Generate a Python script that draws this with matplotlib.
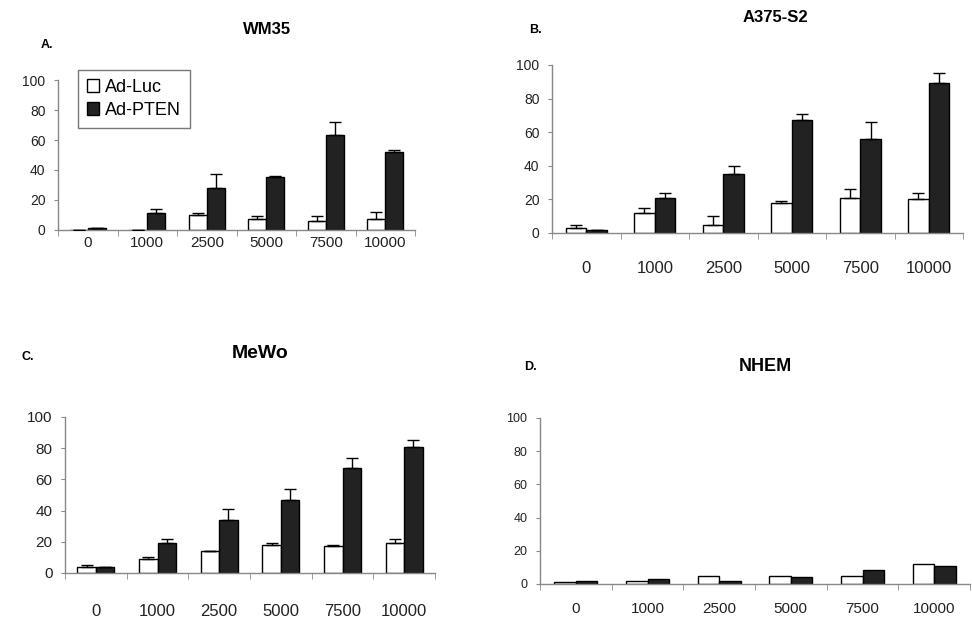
import numpy as np
import matplotlib
matplotlib.use("Agg")
import matplotlib.pyplot as plt

plt.rcParams["font.family"] = ["Liberation Sans", "DejaVu Sans"]

# viral particles per cell (x categories)
doses = ["0", "1000", "2500", "5000", "7500", "10000"]

# % cells
wm35_luc = [0, 0, 10, 7, 6, 7]
wm35_luc_err = [0, 0, 1, 2, 3, 5]
wm35_pten = [1, 11, 28, 35, 63, 52]
wm35_pten_err = [0, 3, 9, 1, 9, 1]

a375_luc = [3, 12, 5, 18, 21, 20]
a375_luc_err = [2, 3, 5, 1, 5, 4]
a375_pten = [2, 21, 35, 67, 56, 89]
a375_pten_err = [0, 3, 5, 4, 10, 6]

mewo_luc = [4, 9, 14, 18, 17, 19]
mewo_luc_err = [1, 1, 0, 1, 1, 3]
mewo_pten = [4, 19, 34, 47, 67, 81]
mewo_pten_err = [0, 3, 7, 7, 7, 4]

nhem_luc = [1, 2, 5, 5, 5, 12]
nhem_pten = [2, 3, 2, 4.5, 8.5, 11]

W, H = 972, 623
fig = plt.figure(figsize=(W / 100, H / 100), dpi=100)


def px_axes(x0, x1, ytop, ybot):
    return fig.add_axes([x0 / W, 1 - ybot / H, (x1 - x0) / W, (ybot - ytop) / H])


def draw_panel(ax, luc, pten, luc_err=None, pten_err=None, xpad=4, xfs=11, yfs=10):
    x = np.arange(len(doses))
    w = 0.3
    ax.bar(x - w / 2, luc, w, color="white", edgecolor="black", linewidth=1.0, label="Ad-Luc", zorder=2)
    ax.bar(x + w / 2, pten, w, color="#222222", edgecolor="black", linewidth=1.0, label="Ad-PTEN", zorder=2)
    if luc_err is not None:
        ax.errorbar(x - w / 2, luc, yerr=[np.zeros(len(luc)), luc_err], fmt="none",
                    ecolor="black", elinewidth=1, capsize=4, capthick=1, zorder=3)
    if pten_err is not None:
        ax.errorbar(x + w / 2, pten, yerr=[np.zeros(len(pten)), pten_err], fmt="none",
                    ecolor="black", elinewidth=1, capsize=4, capthick=1, zorder=3)
    ax.set_xlim(-0.5, len(doses) - 0.5)
    ax.set_ylim(0, 100)
    ax.set_yticks([0, 20, 40, 60, 80, 100])
    ax.set_xticks(x)
    ax.set_xticklabels(doses, fontsize=xfs, color="#222222")
    ax.set_xticks(np.arange(len(doses) + 1) - 0.5, minor=True)
    ax.tick_params(axis="x", which="major", length=0, pad=xpad)
    ax.tick_params(axis="x", which="minor", length=4, color="#888888")
    ax.tick_params(axis="y", length=3, color="#888888", labelsize=yfs, labelcolor="#222222", pad=6)
    for s in ["top", "right"]:
        ax.spines[s].set_visible(False)
    for s in ["left", "bottom"]:
        ax.spines[s].set_color("#888888")
        ax.spines[s].set_linewidth(1.0)


axA = px_axes(58, 415, 80, 230)
draw_panel(axA, wm35_luc, wm35_pten, wm35_luc_err, wm35_pten_err, xpad=4)
leg = axA.legend(loc="upper left", bbox_to_anchor=(0.03, 1.13), fontsize=13, frameon=True,
                 fancybox=False, edgecolor="#555555", handlelength=0.7, handleheight=0.7,
                 handletextpad=0.3, borderpad=0.5, labelspacing=0.35)
leg.get_frame().set_linewidth(1.0)

axB = px_axes(552, 963, 65, 233)
draw_panel(axB, a375_luc, a375_pten, a375_luc_err, a375_pten_err, xpad=20, xfs=12)

axC = px_axes(65, 435, 417, 573)
draw_panel(axC, mewo_luc, mewo_pten, mewo_luc_err, mewo_pten_err, xpad=22, xfs=12, yfs=11)

axD = px_axes(540, 970, 418, 584)
draw_panel(axD, nhem_luc, nhem_pten, xpad=13, xfs=11, yfs=9)

# panel titles and letters
fig.text(267 / W, 1 - 30 / H, "WM35", ha="center", va="center", fontsize=12, fontweight="bold")
fig.text(47 / W, 1 - 45 / H, "A.", ha="center", va="center", fontsize=9, fontweight="bold")
fig.text(775 / W, 1 - 17 / H, "A375-S2", ha="center", va="center", fontsize=12, fontweight="bold")
fig.text(535 / W, 1 - 30 / H, "B.", ha="center", va="center", fontsize=9, fontweight="bold")
fig.text(260 / W, 1 - 353 / H, "MeWo", ha="center", va="center", fontsize=14, fontweight="bold")
fig.text(28 / W, 1 - 357 / H, "C.", ha="center", va="center", fontsize=9, fontweight="bold")
fig.text(765 / W, 1 - 367 / H, "NHEM", ha="center", va="center", fontsize=13, fontweight="bold")
fig.text(530 / W, 1 - 367 / H, "D.", ha="center", va="center", fontsize=9, fontweight="bold")

fig.savefig("out.png", dpi=100)
